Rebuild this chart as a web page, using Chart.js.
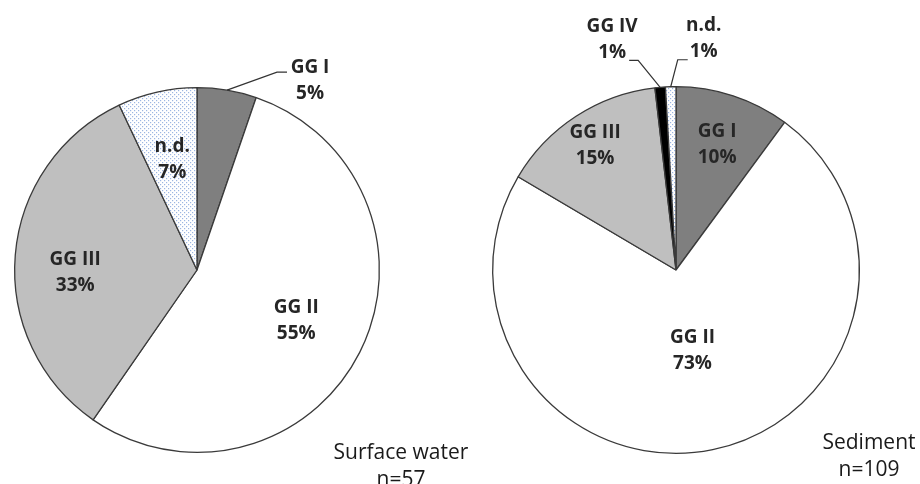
<!DOCTYPE html>
<html>
<head>
<meta charset="utf-8">
<script src="https://cdn.jsdelivr.net/npm/chart.js@4.4.1/dist/chart.umd.min.js"></script>
<style>
  body { margin: 0; background: #fff; }
  #wrap { position: relative; width: 920px; height: 484px; overflow: hidden; font-family: 'Open Sans', sans-serif; }
  .pane { position: absolute; top: 0; width: 460px; height: 484px; }
  .cap { position: absolute; font-size: 21px; color: #1a1a1a; text-align: center; line-height: 27px; white-space: nowrap; }
</style>
</head>
<body>
<div id="wrap">
  <div class="pane" style="left:0"><canvas id="water"></canvas></div>
  <div class="pane" style="left:460px"><canvas id="sediment"></canvas></div>
  <div class="cap" style="left:321px; top:438px; width:160px;">Surface water<br>n=57</div>
  <div class="cap" style="left:809px; top:428px; width:120px;">Sediment<br>n=109</div>
</div>
<script>
// surface water, n=57
const waterLabels = ['GG I', 'GG II', 'GG III', 'n.d.'];
const waterCounts = [3, 31, 19, 4];
const waterPct = ['5%', '55%', '33%', '7%'];

// sediment, n=109
const sedLabels = ['GG I', 'GG II', 'GG III', 'GG IV', 'n.d.'];
const sedCounts = [11, 80, 16, 1, 1];
const sedPct = ['10%', '73%', '15%', '1%', '1%'];

function dotPattern() {
  const c = document.createElement('canvas');
  c.width = 4; c.height = 4;
  const g = c.getContext('2d');
  g.fillStyle = '#fff';
  g.fillRect(0, 0, 4, 4);
  g.fillStyle = '#9cb6e2';
  g.fillRect(0, 0, 1.2, 1.2);
  g.fillRect(2, 2, 1.2, 1.2);
  return g.createPattern(c, 'repeat');
}
const ND = dotPattern();
const colorOf = { 'GG I': '#7f7f7f', 'GG II': '#ffffff', 'GG III': '#bfbfbf', 'GG IV': '#000000', 'n.d.': ND };

// label placement: inside -> fraction of radius along mid angle; outside -> pixel offsets from arc midpoint
const waterLayout = [
  { out: true, elbow: [50, -18], end: [60, -18], text: [83, -10] },
  { r: 0.61 },
  { r: 0.67, dy: 13 },
  { r: 0.62 }
];
const sedLayout = [
  { r: 0.72 },
  { r: 0.45 },
  { r: 0.81 },
  { out: true, elbow: [-22, -27], end: [-31, -27], text: [-48, -48] },
  { out: true, elbow: [7, -27], end: [17, -27], text: [33, -48] }
];

const sliceLabels = {
  id: 'sliceLabels',
  afterDatasetsDraw(chart, args, opts) {
    const ctx = chart.ctx;
    const meta = chart.getDatasetMeta(0);
    ctx.save();
    ctx.font = 'bold 19px "Open Sans", sans-serif';
    ctx.fillStyle = '#262626';
    ctx.textAlign = 'center';
    ctx.textBaseline = 'middle';
    meta.data.forEach((arc, i) => {
      const p = arc.getProps(['x', 'y', 'startAngle', 'endAngle', 'outerRadius'], true);
      const mid = (p.startAngle + p.endAngle) / 2;
      const L = opts.layout[i];
      let tx, ty;
      if (L.out) {
        const ax = p.x + Math.cos(mid) * p.outerRadius;
        const ay = p.y + Math.sin(mid) * p.outerRadius;
        ctx.strokeStyle = '#333';
        ctx.lineWidth = 1.2;
        ctx.beginPath();
        ctx.moveTo(ax, ay);
        ctx.lineTo(ax + L.elbow[0], ay + L.elbow[1]);
        ctx.lineTo(ax + L.end[0], ay + L.end[1]);
        ctx.stroke();
        tx = ax + L.text[0];
        ty = ay + L.text[1];
      } else {
        tx = p.x + Math.cos(mid) * p.outerRadius * L.r;
        ty = p.y + Math.sin(mid) * p.outerRadius * L.r + (L.dy || 0);
      }
      ctx.fillText(chart.data.labels[i], tx, ty - 13);
      ctx.fillText(opts.pct[i], tx, ty + 13);
    });
    ctx.restore();
  }
};

function makePie(id, labels, counts, pct, layout, padding) {
  return new Chart(document.getElementById(id), {
    type: 'pie',
    data: {
      labels,
      datasets: [{
        data: counts,
        backgroundColor: labels.map(l => colorOf[l]),
        borderColor: '#3a3a3a',
        borderWidth: 1.3
      }]
    },
    options: {
      responsive: true, maintainAspectRatio: false,
      animation: false,
      layout: { padding },
      plugins: {
        legend: { display: false },
        tooltip: { enabled: false },
        sliceLabels: { layout, pct }
      }
    },
    plugins: [sliceLabels]
  });
}

makePie('water', waterLabels, waterCounts, waterPct, waterLayout, { left: 14, right: 80, top: 87, bottom: 31 });
makePie('sediment', sedLabels, sedCounts, sedPct, sedLayout, { left: 32, right: 60, top: 86, bottom: 30 });
</script>
</body>
</html>
